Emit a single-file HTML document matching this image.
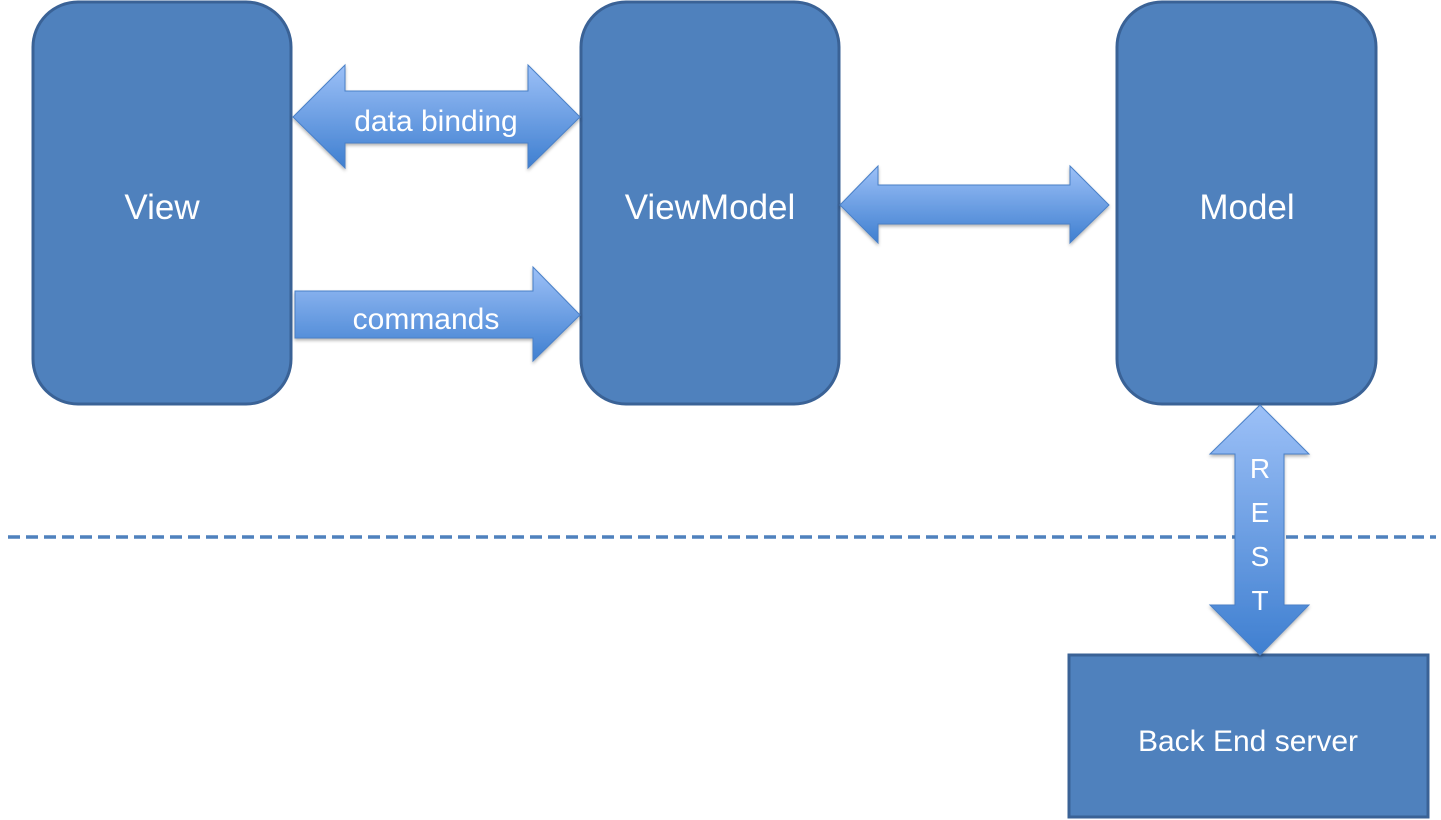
<!DOCTYPE html>
<html><head><meta charset="utf-8"><style>
html,body{margin:0;padding:0;background:#fff;}
svg{display:block;}
text{font-family:"Liberation Sans",sans-serif;fill:#fff;}
</style></head><body>
<svg width="1441" height="820" viewBox="0 0 1441 820" xmlns="http://www.w3.org/2000/svg">
<defs>
<linearGradient id="gv" x1="0" y1="0" x2="0" y2="1">
<stop offset="0" stop-color="#9cc0f7"/><stop offset="1" stop-color="#3f7fd0"/>
</linearGradient>
<filter id="sh" x="-10%" y="-10%" width="120%" height="130%">
<feDropShadow dx="0" dy="2" stdDeviation="1.5" flood-color="#000" flood-opacity="0.3"/>
</filter>
</defs>
<!-- dashed line -->
<line x1="8" y1="537" x2="1436" y2="537" stroke="#4f81bd" stroke-width="3.5" stroke-dasharray="12,6"/>
<!-- boxes -->
<rect x="33" y="2" width="258" height="402" rx="45" fill="#4f81bd" stroke="#3a6296" stroke-width="3"/>
<rect x="581" y="2" width="258" height="402" rx="45" fill="#4f81bd" stroke="#3a6296" stroke-width="3"/>
<rect x="1117" y="2" width="259" height="402" rx="45" fill="#4f81bd" stroke="#3a6296" stroke-width="3"/>
<rect x="1069" y="655" width="359" height="162" fill="#4f81bd" stroke="#3a6296" stroke-width="3"/>
<text x="162" y="219" font-size="35" text-anchor="middle">View</text>
<text x="710" y="219" font-size="35" text-anchor="middle">ViewModel</text>
<text x="1247" y="219" font-size="35" text-anchor="middle">Model</text>
<text x="1248" y="751" font-size="30" text-anchor="middle">Back End server</text>
<!-- data binding arrow -->
<polygon filter="url(#sh)" fill="url(#gv)" stroke="#4a80c8" stroke-width="1"
 points="293,117 345,65 345,91 528,91 528,65 580,117 528,168 528,143 345,143 345,168"/>
<text x="436" y="131" font-size="30" text-anchor="middle">data binding</text>
<!-- commands arrow -->
<polygon filter="url(#sh)" fill="url(#gv)" stroke="#4a80c8" stroke-width="1"
 points="295,291 533,291 533,267 580,315 533,361 533,338 295,338"/>
<text x="426" y="329" font-size="30" text-anchor="middle">commands</text>
<!-- middle arrow -->
<polygon filter="url(#sh)" fill="url(#gv)" stroke="#4a80c8" stroke-width="1"
 points="840,205 878,166 878,185 1070,185 1070,166 1109,205 1070,243 1070,224 878,224 878,243"/>
<!-- REST arrow -->
<polygon filter="url(#sh)" fill="url(#gv)" stroke="#4a80c8" stroke-width="1"
 points="1260,405 1309,454 1284,454 1284,605 1309,605 1260,655 1210,605 1235,605 1235,454 1210,454"/>
<text x="1260" y="478" font-size="28" text-anchor="middle">R</text>
<text x="1260" y="522" font-size="28" text-anchor="middle">E</text>
<text x="1260" y="566" font-size="28" text-anchor="middle">S</text>
<text x="1260" y="610" font-size="28" text-anchor="middle">T</text>
</svg>
</body></html>
